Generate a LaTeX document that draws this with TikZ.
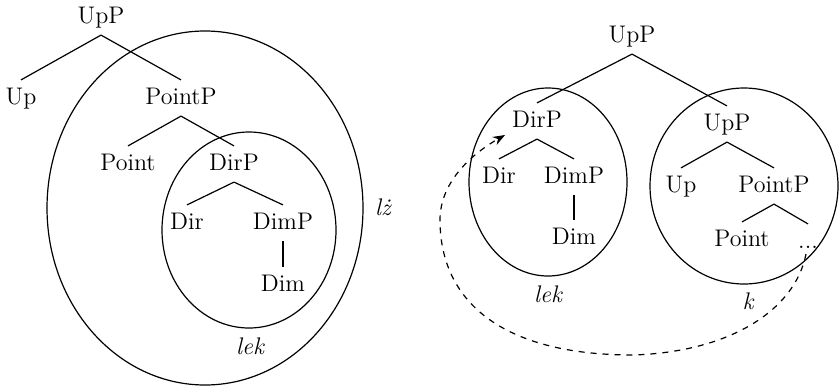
\documentclass[tikz,border=0pt]{standalone}
\usepackage{fontspec}
\usepackage{tikz}
\usetikzlibrary{arrows.meta}

\begin{document}
\begin{tikzpicture}[x=0.5pt,y=-0.5pt,line width=0.6pt,
  cat/.style={inner xsep=1pt,inner ysep=3.5pt,text height=8.5pt,text depth=2pt,font=\fontsize{12}{14}\selectfont},
  lbl/.style={inner sep=1pt,font=\fontsize{12}{14}\selectfont\itshape}]
\useasboundingbox (0,0) rectangle (839,386);
% left tree
\node[cat] (lUpP) at (101,17) {UpP};
\node[cat] (lUp) at (21,98) {Up};
\node[cat] (lPointP) at (181,98) {PointP};
\node[cat] (lPoint) at (128,164) {Point};
\node[cat] (lDirP) at (234,164) {DirP};
\node[cat] (lDir) at (187,223) {Dir};
\node[cat] (lDimP) at (283,223) {DimP};
\node[cat] (lDim) at (283,285) {Dim};
\foreach \a/\b in {lUpP/lUp,lUpP/lPointP,lPointP/lPoint,lPointP/lDirP,lDirP/lDir,lDirP/lDimP,lDimP/lDim}
    \draw (\a.south) -- (\b.north);
\draw (205,208) ellipse [x radius=79pt, y radius=88.5pt];
\draw (249,230) ellipse [x radius=43.5pt, y radius=49pt];
\node[lbl] (lLz) at (383,207) {lż};
\node[lbl] (lLek) at (250,346) {lek};
% right tree
\node[cat] (rUpP) at (632,36) {UpP};
\node[cat] (rDirP) at (537,121) {DirP};
\node[cat] (rDir) at (499,177) {Dir};
\node[cat] (rDimP) at (574,177) {DimP};
\node[cat] (rDim) at (574,238) {Dim};
\node[cat] (rUpPb) at (727,124) {UpP};
\node[cat] (rUp) at (681,186) {Up};
\node[cat] (rPointP) at (774,186) {PointP};
\node[cat] (rPoint) at (742,240) {Point};
\node[cat] (rDots) at (808,242) {...};
\foreach \a/\b in {rUpP/rDirP,rUpP/rUpPb,rDirP/rDir,rDirP/rDimP,rDimP/rDim,rUpPb/rUp,rUpPb/rPointP,rPointP/rPoint,rPointP/rDots}
    \draw (\a.south) -- (\b.north);
\draw (548,182) ellipse [x radius=39.5pt, y radius=47pt];
\draw (744,186) ellipse [x radius=47pt, y radius=49pt];
\node[lbl] (rLek) at (548,294) {lek};
\node[lbl] (rK) at (748,301) {k};
% movement
\coordinate (src) at (806,254);
\coordinate (tgt) at (505,135);
\draw[dashed,-{Stealth[length=6pt,width=4.5pt]}] (src) .. controls (795,310) and (730,352) .. (633,355)
    .. controls (500,355) and (440,300) .. (440,220) .. controls (440,180) and (475,152) .. (tgt);
\end{tikzpicture}
\end{document}
